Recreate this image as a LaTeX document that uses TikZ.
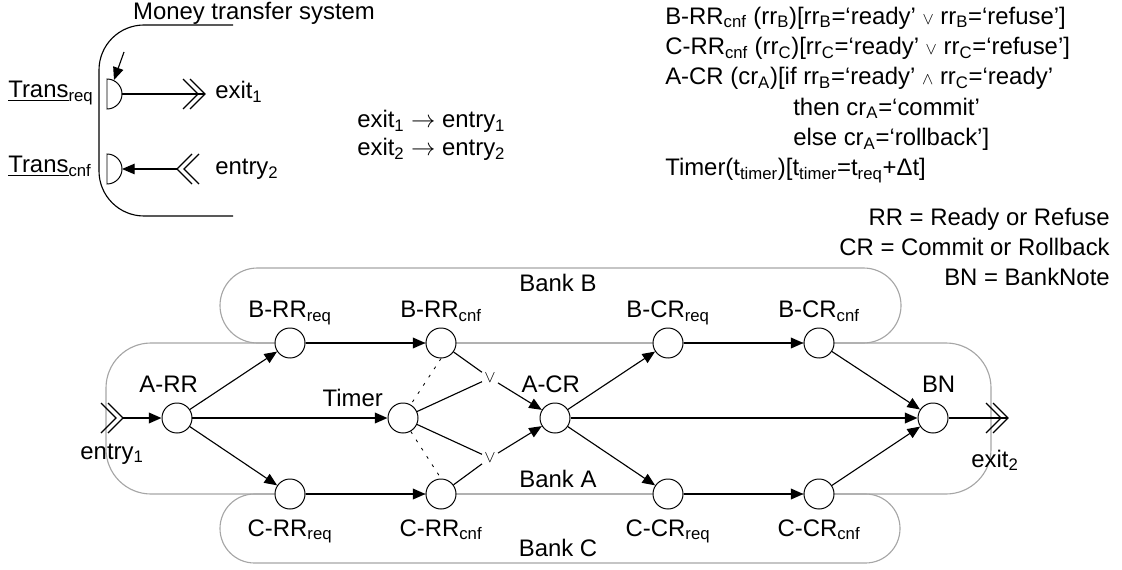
\documentclass[tikz,border=0pt]{standalone}
\usepackage{fontspec}
\setmainfont{Liberation Sans}
\usetikzlibrary{arrows.meta,calc}
\def\dblchev(#1)[#2]{\draw[chev] ($(#1)+(#2*-15,-15)$) -- (#1) -- ($(#1)+(#2*-15,15)$) ($(#1)+(#2*-22,-15)$) -- ($(#1)+(#2*-7,0)$) -- ($(#1)+(#2*-22,15)$);}
\def\smallop#1{{\fontsize{13}{13}\selectfont$#1$}}

\begin{document}
\begin{tikzpicture}[x=0.025cm, y=-0.025cm,
    font=\fontsize{17}{21.6}\selectfont,
    txt/.style={inner sep=0pt},
    place/.style={circle, draw, line width=0.7pt, fill=white, minimum size=0.75cm, inner sep=0pt},
    every label/.style={inner sep=0pt, text depth=0pt},
    label distance=2.4mm,
    flow/.style={line width=1.4pt, -{Triangle[length=9pt,width=7.5pt]}},
    branch/.style={line width=0.8pt, -{Triangle[length=9pt,width=7.5pt]}},
    merge/.style={line width=0.8pt},
    guard/.style={line width=0.6pt, dash pattern=on 2pt off 5pt},
    bank/.style={draw=black!35, line width=0.8pt},
    chev/.style={line width=0.8pt},
    orgate/.style={inner sep=1.5pt, font=\fontsize{13}{13}\selectfont}]
    %%%%% START %%%%%
    \useasboundingbox (0,0) rectangle (1122,570);

    % legend of the interface
    \node[txt, anchor=base] (title) at (254,20) {Money transfer system};
    \draw[line width=0.8pt, rounded corners=1.125cm] (233,25) -- (99,25) -- (99,216) -- (233,216);

    \node[txt, anchor=base west] (lreq) at (8,98) {\underline{Trans}\textsubscript{req}};
    \node[txt, anchor=base west] (lcnf) at (8,173) {\underline{Trans}\textsubscript{cnf}};

    \draw[line width=0.7pt] (107,79) arc (-90:90:15) -- cycle;
    \draw[line width=0.7pt] (107,154) arc (-90:90:15) -- cycle;
    \coordinate (treq) at (122,94);
    \coordinate (tcnf) at (122,169);
    \coordinate (trigger) at (124,52);
    \coordinate (treqtop) at (114,80);
    \coordinate (exit1) at (205,94);
    \coordinate (entry2) at (177,169);

    \draw[branch] (trigger) -- (treqtop);
    \draw[merge] (treq) -- (exit1);
    \dblchev(exit1)[1]
    \draw[branch] (entry2) -- (tcnf);
    \dblchev(entry2)[-1]

    \node[txt, anchor=base west] (lexit1) at (215,99) {exit\textsubscript{1}};
    \node[txt, anchor=base west] (lentry2) at (215,175) {entry\textsubscript{2}};

    \node[txt, anchor=north west, align=left, font=\fontsize{17}{19.9}\selectfont] (binding) at (357,110)
      {exit\textsubscript{1} $\rightarrow$ entry\textsubscript{1}\\
       exit\textsubscript{2} $\rightarrow$ entry\textsubscript{2}};

    \node[txt, anchor=north west, align=left] (guards) at (665,6.5)
      {B-RR\textsubscript{cnf} (rr\textsubscript{B})[rr\textsubscript{B}=`ready' \smallop\vee{} rr\textsubscript{B}=`refuse']\\
       C-RR\textsubscript{cnf} (rr\textsubscript{C})[rr\textsubscript{C}=`ready' \smallop\vee{} rr\textsubscript{C}=`refuse']\\
       A-CR (cr\textsubscript{A})[if rr\textsubscript{B}=`ready' \smallop\wedge{} rr\textsubscript{C}=`ready'\\
       \hspace*{3.2cm}then cr\textsubscript{A}=`commit'\\
       \hspace*{3.2cm}else cr\textsubscript{A}=`rollback']\\
       Timer(t\textsubscript{timer})[t\textsubscript{timer}=t\textsubscript{req}+Δt]};

    \node[txt, anchor=north east, align=right, font=\fontsize{17}{21.3}\selectfont] (abbrev) at (1110,208)
      {RR = Ready or Refuse\\ CR = Commit or Rollback\\ BN = BankNote};

    % banks
    \draw[bank, rounded corners=0.9375cm] (220,268) rectangle (901,343);
    \draw[bank, rounded corners=1.125cm] (106,343) rectangle (991,494);
    \draw[bank, rounded corners=0.8625cm] (220,494) rectangle (900,563);
    \node[txt, anchor=base] (bankb) at (558,291) {Bank B};
    \node[txt, anchor=base] (banka) at (558,487) {Bank A};
    \node[txt, anchor=base] (bankc) at (558,556) {Bank C};

    % places
    \node[place, label={[xshift=-6pt]above:A-RR}] (arr) at (177,418) {};
    \node[place, label={above:B-RR\textsubscript{req}}] (brrreq) at (290,343) {};
    \node[place, label={above:B-RR\textsubscript{cnf}}] (brrcnf) at (441,343) {};
    \node[place, label={[xshift=-1.5pt, yshift=-4.5pt]above left:Timer}] (timer) at (403,418) {};
    \node[place, label={below:C-RR\textsubscript{req}}] (crrreq) at (290,494) {};
    \node[place, label={below:C-RR\textsubscript{cnf}}] (crrcnf) at (441,494) {};
    \node[place, label={[xshift=-3pt]above:A-CR}] (acr) at (555,418) {};
    \node[place, label={above:B-CR\textsubscript{req}}] (bcrreq) at (668,343) {};
    \node[place, label={above:B-CR\textsubscript{cnf}}] (bcrcnf) at (819,343) {};
    \node[place, label={below:C-CR\textsubscript{req}}] (ccrreq) at (668,494) {};
    \node[place, label={below:C-CR\textsubscript{cnf}}] (ccrcnf) at (819,494) {};
    \node[place, label={[xshift=4pt]above:BN}] (bn) at (933,418) {};

    \node[orgate] (or1) at (490,378) {$\vee$};
    \node[orgate] (or2) at (490,458) {$\vee$};

    \coordinate (entry1) at (123,418);
    \coordinate (exit2) at (1008,418);
    \node[txt, anchor=base] (lentry1) at (112,459) {entry\textsubscript{1}};
    \node[txt, anchor=base] (lexit2) at (995,467) {exit\textsubscript{2}};

    % flows
    \draw[flow] (entry1) -- (arr);
    \dblchev(entry1)[1]
    \draw[branch] (arr) -- (brrreq);
    \draw[flow] (arr) -- (timer);
    \draw[branch] (arr) -- (crrreq);
    \draw[flow] (brrreq) -- (brrcnf);
    \draw[flow] (crrreq) -- (crrcnf);

    \draw[merge] (brrcnf) -- (or1);
    \draw[merge] (timer) -- (or1);
    \draw[branch] (or1) -- (acr);
    \draw[merge] (crrcnf) -- (or2);
    \draw[merge] (timer) -- (or2);
    \draw[branch] (or2) -- (acr);
    \draw[guard] (brrcnf.south) -- (timer.60);
    \draw[guard] (timer.-60) -- (crrcnf.north);

    \draw[branch] (acr) -- (bcrreq);
    \draw[flow] (acr) -- (bn);
    \draw[branch] (acr) -- (ccrreq);
    \draw[flow] (bcrreq) -- (bcrcnf);
    \draw[flow] (ccrreq) -- (ccrcnf);
    \draw[branch] (bcrcnf) -- (bn);
    \draw[branch] (ccrcnf) -- (bn);
    \draw[line width=1.4pt] (bn) -- (exit2);
    \dblchev(exit2)[1]
    %%%%% END %%%%%
\end{tikzpicture}
\end{document}
